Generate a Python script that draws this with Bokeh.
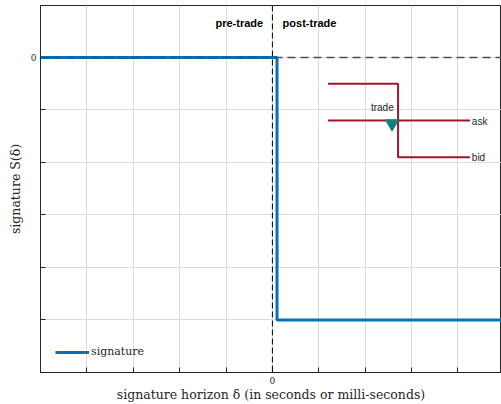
from bokeh.plotting import figure
from bokeh.models import FixedTicker, Span, Legend, LegendItem
from bokeh.core.properties import value
from bokeh.embed import file_html
from bokeh.resources import INLINE

# signature step curve
sig_x = [-5.0, 0.1, 0.1, 5.0]
sig_y = [0.0, 0.0, -5.0, -5.0]

# inset (order book sketch)
quote_x = [1.2, 2.71, 2.71, 4.26]
quote_y = [-0.5, -0.5, -1.9, -1.9]
ask_x = [1.2, 4.26]
ask_y = [-1.2, -1.2]
trade_x = [2.58]
trade_y = [-1.26]

x_ticks = [-5, -4, -3, -2, -1, 0, 1, 2, 3, 4]
y_ticks = [-6, -5, -4, -3, -2, -1, 0]

p = figure(width=501, height=404, output_backend="svg", toolbar_location=None,
           x_range=(-5, 4.94), y_range=(-6, 0.99),
           min_border_left=40, min_border_right=0, min_border_top=5, min_border_bottom=31)

p.background_fill_color = "white"
p.outline_line_color = "#262626"
p.outline_line_width = 1

for ax in (p.xaxis[0], p.yaxis[0]):
    ax.axis_line_color = "#262626"
    ax.major_tick_line_color = "#262626"
    ax.major_tick_in = 5
    ax.major_tick_out = 0
    ax.minor_tick_line_color = None
    ax.major_label_text_font = "DejaVu Serif"
    ax.major_label_text_font_size = "9px"
    ax.major_label_text_color = "#262626"
    ax.axis_label_text_font = "DejaVu Serif"
    ax.axis_label_text_font_size = "12.5px"
    ax.axis_label_text_font_style = "normal"
    ax.axis_label_text_color = "#262626"

p.xaxis.ticker = FixedTicker(ticks=x_ticks)
p.yaxis.ticker = FixedTicker(ticks=y_ticks)
p.xaxis.major_label_overrides = {t: ("0" if t == 0 else "") for t in x_ticks}
p.yaxis.major_label_overrides = {t: ("0" if t == 0 else "") for t in y_ticks}
p.xaxis.axis_label = "signature horizon δ (in seconds or milli-seconds)"
p.yaxis.axis_label = "signature S(δ)"
p.xaxis.major_label_standoff = 4
p.xaxis.axis_label_standoff = 0
p.yaxis.major_label_standoff = 4
p.yaxis.axis_label_standoff = 5

p.xgrid.grid_line_color = "#dcdcdc"
p.ygrid.grid_line_color = "#dcdcdc"

sig = p.line(sig_x, sig_y, line_color="#0072BD", line_width=3)

p.add_layout(Span(location=0, dimension="width", line_color="#4d4d4d",
                  line_width=1.5, line_dash="8 5"))
p.add_layout(Span(location=0, dimension="height", line_color="black",
                  line_width=1, line_dash="6 3"))

p.line(quote_x, quote_y, line_color="#A2142F", line_width=2)
p.line(ask_x, ask_y, line_color="#A2142F", line_width=2)
p.scatter(trade_x, trade_y, marker="inverted_triangle", size=13,
          fill_color="#138080", line_color="#138080")

p.text(x=[2.37], y=[-1.05], text=["trade"], text_align="center", text_baseline="bottom",
       text_font=value("Liberation Sans"), text_font_size="10px", text_color="#262626")
p.text(x=[4.3, 4.3], y=[-1.22, -1.9], text=["ask", "bid"], text_align="left",
       text_baseline="middle", text_font=value("Liberation Sans"),
       text_font_size="10px", text_color="#262626")
p.text(x=[-0.2], y=[0.66], text=["pre-trade"], text_align="right", text_baseline="middle",
       text_font=value("Liberation Sans"), text_font_style="bold",
       text_font_size="11px", text_color="black")
p.text(x=[0.22], y=[0.66], text=["post-trade"], text_align="left", text_baseline="middle",
       text_font=value("Liberation Sans"), text_font_style="bold",
       text_font_size="11px", text_color="black")

legend = Legend(items=[LegendItem(label="signature", renderers=[sig])],
                location=(15, 14), padding=0, margin=0, spacing=0,
                glyph_width=34, glyph_height=12, label_standoff=2,
                label_text_font="DejaVu Serif", label_text_font_size="11px",
                label_text_color="#262626",
                background_fill_alpha=0, border_line_color=None)
p.add_layout(legend)

open("out.html", "w").write(file_html(p, INLINE))
